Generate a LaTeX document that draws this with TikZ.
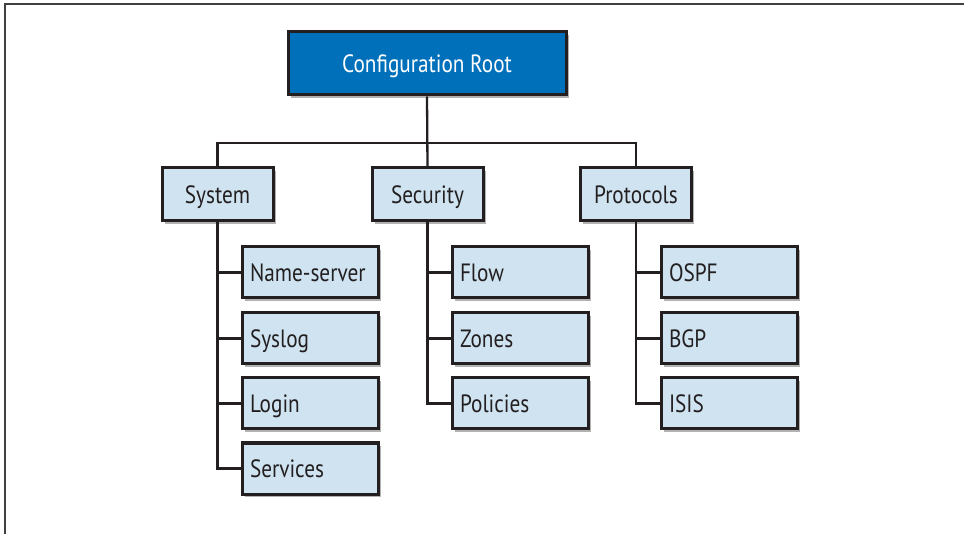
\documentclass[tikz,border=0pt]{standalone}
\usepackage{fontspec}
\setmainfont[FakeStretch=0.85]{PT Sans}
\usetikzlibrary{shadows}
\definecolor{rootblue}{HTML}{0070BB}
\definecolor{boxblue}{HTML}{CFE3F1}
\definecolor{ink}{HTML}{231F20}
\tikzset{
  boxshadow/.style={drop shadow={shadow xshift=2.5pt, shadow yshift=-3pt, fill=black, opacity=0.3}},
  labelfont/.style={font=\fontsize{25}{28}\selectfont, text height=17.5pt, text depth=0pt},
  rootbox/.style={draw=ink, line width=3pt, fill=rootblue, text=white, boxshadow,
    minimum width=278pt, minimum height=63pt, inner sep=0pt, labelfont},
  midbox/.style={draw=ink, line width=3pt, fill=boxblue, text=ink, boxshadow,
    minimum width=111pt, minimum height=53pt, inner sep=0pt, labelfont},
  leafbox/.style={draw=ink, line width=3pt, fill=boxblue, text=ink, boxshadow,
    text width=120pt, inner xsep=8pt, inner ysep=0pt, align=left,
    minimum height=51pt, labelfont},
  link/.style={draw=ink, line width=2.3pt},
  framebar/.style={draw=black!75, line width=1.5pt}
}
\begin{document}
\begin{tikzpicture}[x=1pt, y=-1pt]
\useasboundingbox (0,0) rectangle (964,534);
\draw[framebar] (5,534) -- (5,4) -- (964,4);
\coordinate (bus) at (0,143);

\node[rootbox] (root) at (427,63.5) {Configuration Root};

\node[midbox] (sys) at (217.5,194.5) {System};
\node[midbox] (sec) at (427.5,194.5) {Security};
\node[midbox] (prot) at (636,194.5) {Protocols};

\node[leafbox] (ns)   at (310,272.5) {Name-server};
\node[leafbox] (slog) at (310,338.5) {Syslog};
\node[leafbox] (login) at (310,403.5) {Login};
\node[leafbox] (serv) at (310,468.5) {Services};

\node[leafbox] (flow) at (520,272.5) {Flow};
\node[leafbox] (zones) at (520,338.5) {Zones};
\node[leafbox] (pol) at (520,403.5) {Policies};

\node[leafbox] (ospf) at (729,272.5) {OSPF};
\node[leafbox] (bgp) at (729,338.5) {BGP};
\node[leafbox] (isis) at (729,403.5) {ISIS};

\draw[link] (root.south) -- (sec.north);
\draw[link] (sys.north) -- (sys.north |- bus) -- (prot.north |- bus) -- (prot.north);

\draw[link] (sys.south) |- (serv.west);
\draw[link] (sys.south |- ns.west) -- (ns.west);
\draw[link] (sys.south |- slog.west) -- (slog.west);
\draw[link] (sys.south |- login.west) -- (login.west);

\draw[link] (sec.south) |- (pol.west);
\draw[link] (sec.south |- flow.west) -- (flow.west);
\draw[link] (sec.south |- zones.west) -- (zones.west);

\draw[link] (prot.south) |- (isis.west);
\draw[link] (prot.south |- ospf.west) -- (ospf.west);
\draw[link] (prot.south |- bgp.west) -- (bgp.west);
\end{tikzpicture}
\end{document}
